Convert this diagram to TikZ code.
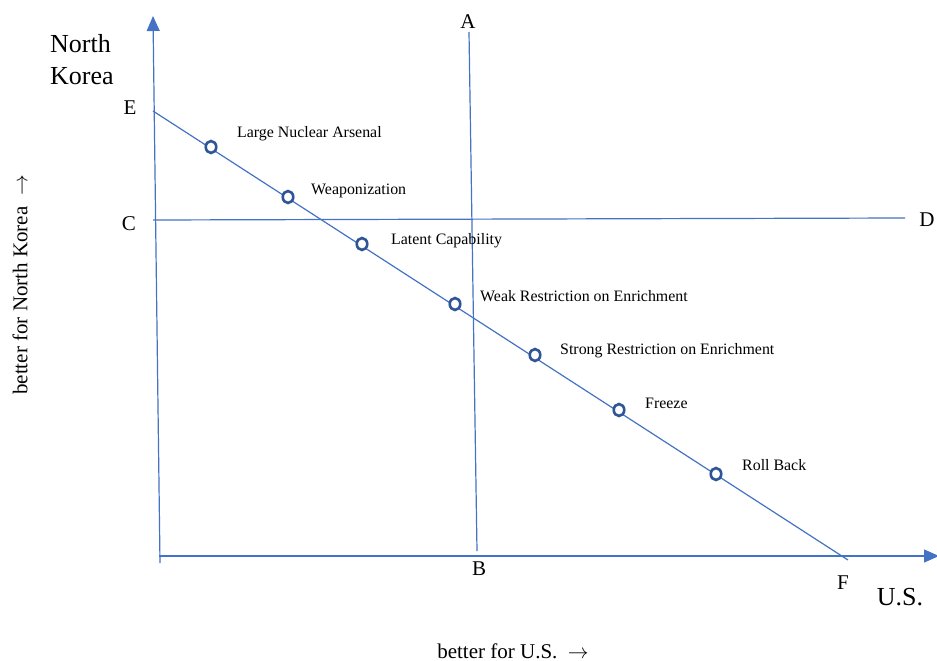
\documentclass[tikz,border=0pt]{standalone}
\usepackage{fontspec}
\setmainfont{Liberation Serif}
\usetikzlibrary{arrows.meta,shapes.geometric}
\definecolor{axisblue}{HTML}{4472C4}
\definecolor{dotblue}{HTML}{2F5597}
\begin{document}
\begin{tikzpicture}[x=1pt,y=-1pt,
  axisline/.style={draw=axisblue,line width=1.2pt},
  axisarrow/.style={axisline,-{Triangle[length=15pt,width=13pt]}},
  dot/.style={ellipse,draw=dotblue,line width=2.6pt,minimum width=10.5pt,minimum height=12pt,inner sep=0pt,fill=white},
  lbl/.style={anchor=west,inner sep=0pt,font=\fontsize{15.9}{18}\selectfont},
  letter/.style={inner sep=0pt,font=\fontsize{21}{24}\selectfont},
  big/.style={inner sep=0pt,font=\fontsize{26}{32}\selectfont,align=left},
  axtitle/.style={inner sep=0pt,font=\fontsize{21}{24}\selectfont}]
\useasboundingbox (0,0) rectangle (937,661);
% endpoints
\coordinate (yaxB) at (160,563);
\coordinate (yaxT) at (153,16);
\coordinate (xaxL) at (159,556);
\coordinate (xaxR) at (939,556);
\coordinate (Ep) at (153,111);
\coordinate (Fp) at (848,560);
\coordinate (Ap) at (469,32);
\coordinate (Bp) at (477,551);
\coordinate (Cp) at (153,220);
\coordinate (Dp) at (905,218);
% axes
\draw[axisarrow] (yaxB) -- (yaxT);
\draw[axisarrow] (xaxL) -- (xaxR);
% lines
\draw[axisline] (Ap) -- (Bp);
\draw[axisline] (Cp) -- (Dp);
\draw[axisline] (Ep) -- (Fp);
% points
\node[dot] (p1) at (211,147) {};
\node[dot] (p2) at (288,197) {};
\node[dot] (p3) at (362,244) {};
\node[dot] (p4) at (455,304) {};
\node[dot] (p5) at (535,355) {};
\node[dot] (p6) at (619,410) {};
\node[dot] (p7) at (716,474) {};
% point labels
\node[lbl] (l1) at (237,134) {Large Nuclear Arsenal};
\node[lbl] (l2) at (311,191) {Weaponization};
\node[lbl] (l3) at (391,241) {Latent Capability};
\node[lbl] (l4) at (480,296) {Weak Restriction on Enrichment};
\node[lbl] (l5) at (560,351) {Strong Restriction on Enrichment};
\node[lbl] (l6) at (645,403) {Freeze};
\node[lbl] (l7) at (742,465) {Roll Back};
% letters
\node[letter] (tE) at (130,108) {E};
\node[letter] (tC) at (129,224) {C};
\node[letter] (tD) at (927,220) {D};
\node[letter] (tA) at (468,22) {A};
\node[letter] (tB) at (479,569) {B};
\node[letter] (tF) at (843,583) {F};
% titles
\node[big,anchor=north west] (nk) at (50,34) {North\\Korea};
\node[big] (us) at (900,597) {U.S.};
\node[axtitle] (xt) at (513,651) {better for U.S.~~$\rightarrow$};
\node[axtitle,rotate=90] (yt) at (20,285) {better for North Korea~~$\rightarrow$};
\end{tikzpicture}
\end{document}
